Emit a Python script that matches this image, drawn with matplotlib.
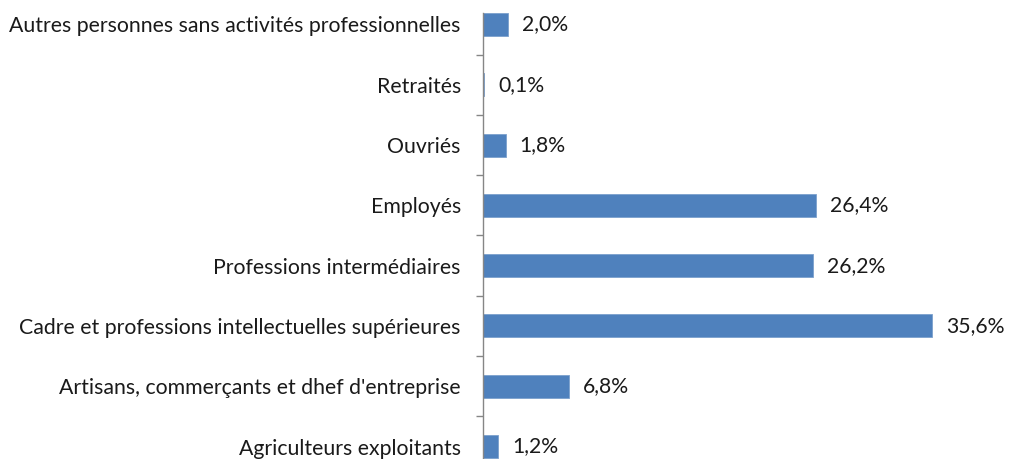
import matplotlib
matplotlib.use("Agg")
import matplotlib.pyplot as plt
import numpy as np

categories = [
    "Agriculteurs exploitants",
    "Artisans, commerçants et dhef d'entreprise",
    "Cadre et professions intellectuelles supérieures",
    "Professions intermédiaires",
    "Employés",
    "Ouvriés",
    "Retraités",
    "Autres personnes sans activités professionnelles",
]
values = [1.2, 6.8, 35.6, 26.2, 26.4, 1.8, 0.1, 2.0]
value_labels = ["1,2%", "6,8%", "35,6%", "26,2%", "26,4%", "1,8%", "0,1%", "2,0%"]

plt.rcParams['font.family'] = ['Lato', 'DejaVu Sans']

fig = plt.figure(figsize=(10.09, 4.59), dpi=100)
left = 483 / 1009
top_px = 13
ax = fig.add_axes([left, 0, 1 - left, (459 - top_px) / 459])

y = np.arange(len(categories))
bar_h = 0.38
ax.barh(y, values, height=bar_h, color="#4F81BD", edgecolor="#7BA0CD", linewidth=0.6)

for yi, v, lab in zip(y, values, value_labels):
    ax.annotate(lab, (v, yi), xytext=(10, 0), textcoords="offset points",
                va="center", ha="left", fontsize=15.2, color="#1a1a1a")

ax.set_yticks(y)
ax.set_yticklabels(categories, fontsize=15.3, color="#1a1a1a")
ax.tick_params(axis="y", which="major", length=0, pad=16)
ax.set_yticks(np.arange(-0.5, len(categories) - 0.5, 1.0), minor=True)
ax.tick_params(axis="y", which="minor", length=5, color="#868686", width=1)

ax.set_xticks([])
ax.set_xlim(0, (1009 - 483) / 12.61)
ax.set_ylim(-0.207, len(categories) - 1 + bar_h / 2)

for s in ["top", "right", "bottom"]:
    ax.spines[s].set_visible(False)
ax.spines["left"].set_color("#868686")
ax.spines["left"].set_linewidth(1)

fig.savefig("out.png", dpi=100)
